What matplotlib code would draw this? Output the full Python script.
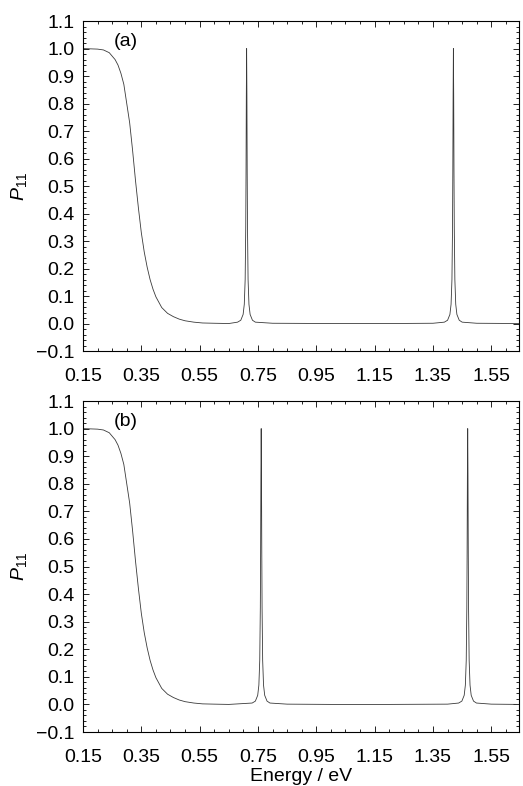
import numpy as np
import matplotlib.pyplot as plt
from matplotlib.ticker import MultipleLocator

plt.rcParams['font.family'] = ['Liberation Sans', 'DejaVu Sans']
plt.rcParams['mathtext.fontset'] = 'custom'
plt.rcParams['mathtext.it'] = 'Liberation Sans:italic'
plt.rcParams['mathtext.rm'] = 'Liberation Sans'

# transmission P11 vs energy
# panel (a)
energy_a = [0.15, 0.20, 0.22, 0.24, 0.26, 0.27, 0.28, 0.29, 0.30, 0.31, 0.32,
            0.33, 0.34, 0.35, 0.36, 0.37, 0.38, 0.39, 0.40, 0.42, 0.44, 0.46,
            0.48, 0.50, 0.53, 0.56, 0.60, 0.65,
            0.680, 0.691, 0.699, 0.703, 0.706, 0.708, 0.709, 0.710, 0.711,
            0.712, 0.713, 0.714, 0.716, 0.719, 0.723, 0.731, 0.741,
            0.80, 1.00, 1.20, 1.35,
            1.389, 1.400, 1.408, 1.412, 1.415, 1.417, 1.418, 1.419, 1.420,
            1.421, 1.422, 1.423, 1.425, 1.428, 1.432, 1.440, 1.450,
            1.50, 1.645]
p11_a = [1.0, 0.998, 0.995, 0.985, 0.96, 0.94, 0.91, 0.87, 0.80, 0.73, 0.63,
         0.52, 0.42, 0.33, 0.26, 0.205, 0.16, 0.125, 0.097, 0.058, 0.037, 0.025,
         0.016, 0.010, 0.005, 0.002, 0.001, 0.0,
         0.005, 0.012, 0.033, 0.07, 0.16, 0.35, 0.55, 0.83, 1.0,
         0.83, 0.55, 0.35, 0.16, 0.07, 0.033, 0.012, 0.005,
         0.001, 0.0, 0.0, 0.001,
         0.005, 0.012, 0.033, 0.07, 0.16, 0.35, 0.55, 0.83, 1.0,
         0.83, 0.55, 0.35, 0.16, 0.07, 0.033, 0.012, 0.005,
         0.001, 0.0]

# panel (b)
energy_b = [0.15, 0.20, 0.22, 0.24, 0.26, 0.27, 0.28, 0.29, 0.30, 0.31, 0.32,
            0.33, 0.34, 0.35, 0.36, 0.37, 0.38, 0.39, 0.40, 0.42, 0.44, 0.46,
            0.48, 0.50, 0.53, 0.56, 0.60, 0.65,
            0.730, 0.741, 0.749, 0.753, 0.756, 0.758, 0.759, 0.760, 0.761,
            0.762, 0.763, 0.764, 0.766, 0.769, 0.773, 0.781, 0.791,
            0.85, 1.00, 1.20, 1.40,
            1.438, 1.449, 1.457, 1.461, 1.464, 1.466, 1.467, 1.468, 1.469,
            1.470, 1.471, 1.472, 1.474, 1.477, 1.481, 1.489, 1.499,
            1.55, 1.645]
p11_b = [1.0, 0.998, 0.995, 0.985, 0.96, 0.94, 0.91, 0.87, 0.80, 0.73, 0.63,
         0.52, 0.42, 0.33, 0.26, 0.205, 0.16, 0.125, 0.097, 0.058, 0.037, 0.025,
         0.016, 0.010, 0.005, 0.002, 0.001, 0.0,
         0.005, 0.012, 0.033, 0.07, 0.16, 0.35, 0.55, 0.83, 1.0,
         0.83, 0.55, 0.35, 0.16, 0.07, 0.033, 0.012, 0.005,
         0.001, 0.0, 0.0, 0.001,
         0.005, 0.012, 0.033, 0.07, 0.16, 0.35, 0.55, 0.83, 1.0,
         0.83, 0.55, 0.35, 0.16, 0.07, 0.033, 0.012, 0.005,
         0.001, 0.0]

xticks = [0.15, 0.35, 0.55, 0.75, 0.95, 1.15, 1.35, 1.55]
yticks = [-0.1, 0.0, 0.1, 0.2, 0.3, 0.4, 0.5, 0.6, 0.7, 0.8, 0.9, 1.0, 1.1]

fig = plt.figure(figsize=(5.23, 7.86), dpi=100)
ax_a = fig.add_axes([0.1587, 0.5534, 0.8337, 0.4198])
ax_b = fig.add_axes([0.1587, 0.0687, 0.8337, 0.4211])

for ax, e, p, tag in [(ax_a, energy_a, p11_a, '(a)'), (ax_b, energy_b, p11_b, '(b)')]:
    ax.plot(e, p, color='#3a3a3a', lw=0.6)
    ax.set_xlim(0.15, 1.645)
    ax.set_ylim(-0.1, 1.1)
    ax.set_xticks(xticks)
    ax.set_xticklabels(['%.2f' % t for t in xticks])
    ax.set_yticks(yticks)
    ax.set_yticklabels(['\u22120.1' if t < 0 else '%.1f' % t for t in yticks])
    ax.xaxis.set_minor_locator(MultipleLocator(0.05))
    ax.yaxis.set_minor_locator(MultipleLocator(0.02))
    ax.tick_params(which='both', direction='in', top=True, right=True, width=0.6)
    ax.tick_params(which='major', length=4.5)
    ax.tick_params(which='minor', length=2.5)
    ax.tick_params(axis='x', which='major', pad=12, labelsize=14)
    ax.tick_params(axis='y', which='major', pad=6, labelsize=14)
    for s in ax.spines.values():
        s.set_linewidth(0.8)
    ax.set_ylabel('$P_{11}$', fontsize=14, labelpad=5)
    ax.text(0.255, 1.024, tag, fontsize=14, ha='left', va='center')

ax_b.set_xlabel('Energy / eV', fontsize=14, labelpad=2)

fig.savefig('out.png', dpi=100)
